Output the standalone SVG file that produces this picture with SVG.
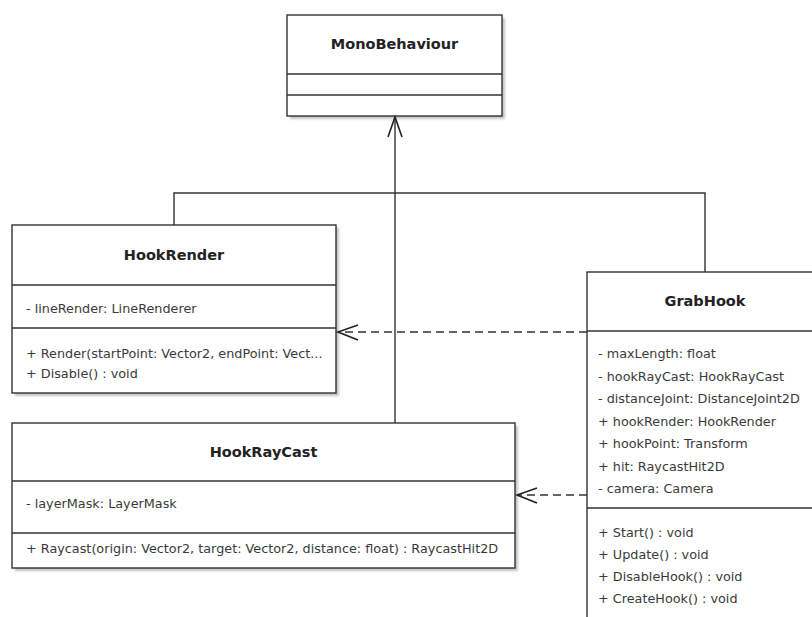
<svg xmlns="http://www.w3.org/2000/svg" width="812" height="617" viewBox="0 0 812 617">
  <style>
    .shadow { fill: #c4c4c4; }
    .box { fill: #ffffff; stroke: #333333; stroke-width: 1.4; }
    .sep { stroke: #333333; stroke-width: 1.3; }
    .title { font-family: "DejaVu Sans", sans-serif; font-weight: bold; font-size: 14.5px; fill: #222222; text-anchor: middle; }
    .member { font-family: "DejaVu Sans", sans-serif; font-size: 12.8px; fill: #3a3a3a; }
    .edge { fill: none; stroke: #333333; stroke-width: 1.4; }
    .dashed { fill: none; stroke: #333333; stroke-width: 1.4; stroke-dasharray: 8 5; }
    .head { fill: none; stroke: #222222; stroke-width: 1.6; }
  </style>
  <defs>
    <filter id="soft" x="-5%" y="-5%" width="110%" height="110%">
      <feGaussianBlur stdDeviation="1"/>
    </filter>
  </defs>
  <rect width="812" height="617" fill="#ffffff"/>

  <!-- MonoBehaviour -->
  <g id="monobehaviour">
    <rect class="shadow" x="290" y="18" width="215" height="101" filter="url(#soft)"/>
    <rect class="box" x="287" y="15" width="215" height="101"/>
    <line class="sep" x1="287" y1="74" x2="502" y2="74"/>
    <line class="sep" x1="287" y1="95" x2="502" y2="95"/>
    <text class="title" x="394.5" y="48.5">MonoBehaviour</text>
  </g>

  <!-- HookRender -->
  <g id="hookrender">
    <rect class="shadow" x="15" y="228" width="324" height="168" filter="url(#soft)"/>
    <rect class="box" x="12" y="225" width="324" height="168"/>
    <line class="sep" x1="12" y1="285" x2="336" y2="285"/>
    <line class="sep" x1="12" y1="328" x2="336" y2="328"/>
    <text class="title" x="174" y="260">HookRender</text>
    <text class="member" x="26" y="312.5">- lineRender: LineRenderer</text>
    <text class="member" x="26" y="357.5">+ Render(startPoint: Vector2, endPoint: Vect...</text>
    <text class="member" x="26" y="377.5">+ Disable() : void</text>
  </g>

  <!-- HookRayCast -->
  <g id="hookraycast">
    <rect class="shadow" x="15" y="426" width="503" height="145" filter="url(#soft)"/>
    <rect class="box" x="12" y="423" width="503" height="145"/>
    <line class="sep" x1="12" y1="481" x2="515" y2="481"/>
    <line class="sep" x1="12" y1="533" x2="515" y2="533"/>
    <text class="title" x="263.5" y="456.5">HookRayCast</text>
    <text class="member" x="26" y="507.5">- layerMask: LayerMask</text>
    <text class="member" x="26" y="552.5">+ Raycast(origin: Vector2, target: Vector2, distance: float) : RaycastHit2D</text>
  </g>

  <!-- GrabHook -->
  <g id="grabhook">
    <rect class="shadow" x="590" y="275" width="240" height="360" filter="url(#soft)"/>
    <rect class="box" x="587" y="272" width="240" height="360"/>
    <line class="sep" x1="587" y1="331" x2="812" y2="331"/>
    <line class="sep" x1="587" y1="508" x2="812" y2="508"/>
    <text class="title" x="705" y="305.5">GrabHook</text>
    <text class="member" x="598" y="357.5">- maxLength: float</text>
    <text class="member" x="598" y="380.5">- hookRayCast: HookRayCast</text>
    <text class="member" x="598" y="402.5">- distanceJoint: DistanceJoint2D</text>
    <text class="member" x="598" y="425.5">+ hookRender: HookRender</text>
    <text class="member" x="598" y="447.5">+ hookPoint: Transform</text>
    <text class="member" x="598" y="470.5">+ hit: RaycastHit2D</text>
    <text class="member" x="598" y="492.5">- camera: Camera</text>
    <text class="member" x="598" y="536.5">+ Start() : void</text>
    <text class="member" x="598" y="558.5">+ Update() : void</text>
    <text class="member" x="598" y="580.5">+ DisableHook() : void</text>
    <text class="member" x="598" y="602.5">+ CreateHook() : void</text>
  </g>

  <!-- Connectors -->
  <g id="connectors">
    <!-- generalization tree to MonoBehaviour -->
    <polyline class="edge" points="395,423 395,117"/>
    <polyline class="edge" points="174,225 174,193 705,193 705,272"/>
    <polyline class="head" points="388,137 395,117 402,137"/>
    <!-- dependencies from GrabHook -->
    <line class="dashed" x1="587" y1="332" x2="338" y2="332"/>
    <polyline class="head" points="358,325 338,332 358,340"/>
    <line class="dashed" x1="587" y1="495" x2="517" y2="495"/>
    <polyline class="head" points="537,488 517,495 537,503"/>
  </g>
</svg>
